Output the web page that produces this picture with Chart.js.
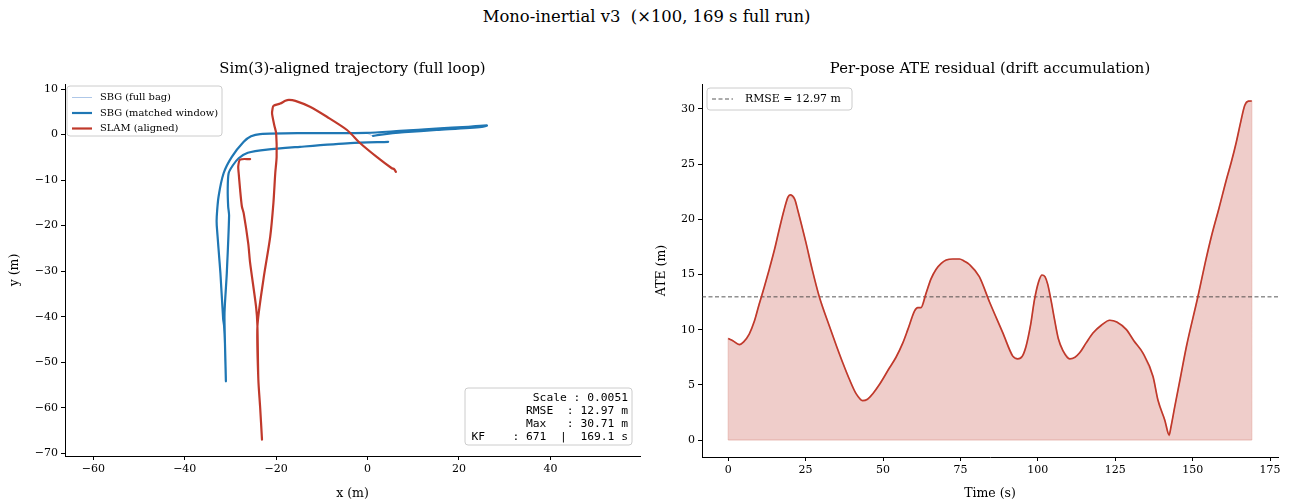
<!DOCTYPE html>
<html>
<head>
<meta charset="utf-8">
<script src="https://cdn.jsdelivr.net/npm/chart.js@4/dist/chart.umd.min.js"></script>
<style>
  html, body { margin: 0; padding: 0; background: #fff; }
  #wrap { position: relative; width: 1293px; height: 501px; overflow: hidden; }
  #suptitle { position: absolute; left: 0; top: 7px; width: 1293px; text-align: center;
              font-family: "DejaVu Serif", serif; font-size: 16.4px; color: #000; }
  .pane { position: absolute; top: 0; height: 501px; }
  #left { left: 0; width: 650px; }
  #right { left: 650px; width: 643px; }
</style>
</head>
<body>
<div id="wrap">
  <div id="suptitle">Mono-inertial v3&nbsp; (×100, 169 s full run)</div>
  <div class="pane" id="left"><canvas id="traj"></canvas></div>
  <div class="pane" id="right"><canvas id="ate"></canvas></div>
</div>
<script>
// ---- Trajectory (metres, Sim(3)-aligned) ----
const SBG_MATCHED_X = [4.5, -3.8, -14.8, -22.0, -26.2, -28.2, -29.5, -30.4, -30.6, -30.5, -30.3, -30.8, -31.3, -31.2, -31.0,
  -31.2, -31.4, -31.6, -32.2, -33.0, -33.0, -32.6, -31.5, -29.7, -27.1, -25.5, -23.5, -14.8, -0.2, 7.1, 15.0, 22.0, 26.1,
  25.0, 15.1, 8.0, 3.0, 1.2];
const SBG_MATCHED_Y = [-1.6, -1.9, -2.7, -3.3, -4.0, -5.2, -6.8, -8.5, -12.0, -15.8, -17.8, -30.4, -39.2, -46.0, -54.2,
  -46.0, -42.0, -40.5, -30.4, -20.0, -18.0, -13.6, -8.5, -4.9, -1.6, -0.4, 0.1, 0.3, 0.35, 0.8, 1.3, 1.7, 2.0,
  1.7, 1.0, 0.5, 0.0, -0.3];
// the full bag runs a little past the matched window at the loop closure
const SBG_EXTRA_X = [0.3, -0.6];
const SBG_EXTRA_Y = [0.1, 0.4];

const SLAM_X = [-25.7, -27.9, -28.3, -28.2, -27.9, -27.5, -27.1, -26.1, -25.7, -24.4, -24.1, -23.9, -23.5, -23.1,
  -23.5, -23.9, -24.1, -22.8, -21.3, -20.6, -20.2, -19.9, -20.0, -20.4, -20.9, -20.8, -20.6, -19.1, -18.0, -17.2, -15.8,
  -12.6, -8.9, -4.5, -1.6, 2.0, 5.3, 5.8, 6.2];
const SLAM_Y = [-5.4, -5.5, -7.0, -8.5, -12.0, -15.8, -17.3, -24.0, -28.2, -37.8, -42.1, -53.8, -60.0, -67.0,
  -60.0, -53.8, -42.1, -31.9, -22.4, -15.0, -8.5, -4.9, 0.26, 2.0, 4.6, 5.6, 6.3, 6.8, 7.4, 7.6, 7.4,
  6.1, 3.9, 1.0, -1.9, -4.9, -7.4, -7.6, -8.2];

const TRAJ_X_TICKS = [-60, -40, -20, 0, 20, 40];
const TRAJ_Y_TICKS = [-70, -60, -50, -40, -30, -20, -10, 0, 10];

// ---- Per-pose ATE residual ----
const ATE_T = [0, 1.5, 3.6, 5, 6.8, 8.5, 10, 11.7, 13.3, 15, 16.5, 18, 19.3, 20, 21.5, 22.5, 25.1, 27, 29.4, 32.7,
  35, 37, 39, 41.3, 43.4, 45, 46.7, 49, 52, 54.2, 56.4, 58, 60.2, 61.2, 62.3, 63.9, 65.5, 67.1, 68.8, 70.4,
  72.5, 74.7, 76.3, 77.9, 81.1, 84.4, 88.7, 91.9, 93.5, 95, 96.2, 97.7, 98.9, 100.2, 101.3, 102.3, 103.2, 104.3,
  105.4, 106.6, 108.1, 110.3, 112, 113.5, 115.6, 117.8, 120.5, 123.2, 125.5, 128.6, 131, 133.9, 137.2, 138.8,
  141, 142.4, 143, 144.2, 146, 148, 151.7, 154, 156.1, 158.5, 160.9, 162.5, 164.1, 165.5, 166.8, 168, 169.1];
const ATE_V = [9.2, 9.0, 8.65, 8.9, 9.6, 10.8, 12.3, 13.9, 15.5, 17.3, 19.1, 20.8, 22.0, 22.2, 21.8, 20.8, 17.9, 15.6, 13.0, 10.3,
  8.5, 7.0, 5.6, 4.2, 3.57, 3.7, 4.2, 5.1, 6.5, 7.5, 8.8, 10.0, 11.7, 12.0, 12.0, 13.3, 14.6, 15.45, 16.0, 16.3,
  16.4, 16.4, 16.2, 15.9, 14.8, 12.5, 9.7, 7.6, 7.35, 7.6, 8.5, 10.5, 12.7, 14.3, 14.95, 14.8, 14.1, 12.6,
  10.9, 9.2, 8.1, 7.35, 7.5, 7.9, 8.8, 9.7, 10.4, 10.85, 10.7, 10.0, 9.0, 7.9, 5.76, 3.6,
  1.8, 0.45, 1.2, 3.0, 5.6, 8.5, 13.0, 16.0, 18.5, 21.0, 23.6, 25.2, 27.0, 28.8, 30.3, 30.7, 30.71];
const RMSE = 12.97;
const ATE_X_TICKS = [0, 25, 50, 75, 100, 125, 150, 175];
const ATE_Y_TICKS = [0, 5, 10, 15, 20, 25, 30];

const STATS_LINES = [
  'Scale : 0.0051',
  'RMSE  : 12.97 m',
  'Max   : 30.71 m',
  'KF    : 671  |  169.1 s'
];

// ---- styling ----
const BLUE = '#1f77b4', LIGHT_BLUE = '#aec7e8', RED = '#c0392b';
const SERIF = '"DejaVu Serif", serif';
const MONO = '"DejaVu Sans Mono", monospace';

const zip = (xs, ys) => xs.map((x, i) => ({ x, y: ys[i] }));
const minus = v => String(v).replace('-', '\u2212');

function axis(ticks, title, fitKey, fitVal, titlePad, extra) {
  return Object.assign({
    type: 'linear',
    afterBuildTicks: s => { s.ticks = ticks.map(v => ({ value: v })); },
    afterFit: s => { s[fitKey] = fitVal; },
    grid: { display: true, drawOnChartArea: false, drawTicks: true, tickLength: 4, color: '#000', lineWidth: 1 },
    border: { display: true, color: '#000', width: 1 },
    ticks: { color: '#000', font: { family: SERIF, size: 11 }, padding: 3, callback: v => minus(v), maxRotation: 0, autoSkip: false },
    title: { display: true, text: title, color: '#000', font: { family: SERIF, size: 12.5 }, padding: titlePad }
  }, extra);
}

function roundRect(ctx, x, y, w, h, r) {
  ctx.beginPath();
  ctx.moveTo(x + r, y);
  ctx.lineTo(x + w - r, y); ctx.quadraticCurveTo(x + w, y, x + w, y + r);
  ctx.lineTo(x + w, y + h - r); ctx.quadraticCurveTo(x + w, y + h, x + w - r, y + h);
  ctx.lineTo(x + r, y + h); ctx.quadraticCurveTo(x, y + h, x, y + h - r);
  ctx.lineTo(x, y + r); ctx.quadraticCurveTo(x, y, x + r, y);
  ctx.closePath();
}

function panelBox(ctx, x, y, w, h) {
  roundRect(ctx, x, y, w, h, 3);
  ctx.fillStyle = 'rgba(255,255,255,0.85)';
  ctx.fill();
  ctx.strokeStyle = '#cccccc';
  ctx.lineWidth = 1;
  ctx.stroke();
}

// subplot title above the plotting area
const panelTitle = {
  id: 'panelTitle',
  afterDraw(chart, args, opts) {
    const { ctx, chartArea: a } = chart;
    ctx.save();
    ctx.font = '14.8px ' + SERIF;
    ctx.fillStyle = '#000';
    ctx.textAlign = 'center';
    ctx.textBaseline = 'middle';
    ctx.fillText(opts.text, (a.left + a.right) / 2, a.top - 15);
    ctx.restore();
  }
};

// legend + stats box for the trajectory panel
const trajDecor = {
  id: 'trajDecor',
  afterDraw(chart) {
    const { ctx, chartArea: a } = chart;
    ctx.save();
    const lx = a.left + 2, ly = a.top + 2;
    panelBox(ctx, lx, ly, 155, 50);
    const rows = [
      { label: 'SBG (full bag)', color: LIGHT_BLUE, w: 1 },
      { label: 'SBG (matched window)', color: BLUE, w: 2.2 },
      { label: 'SLAM (aligned)', color: RED, w: 2.2 }
    ];
    ctx.font = '9.9px ' + SERIF;
    ctx.textBaseline = 'middle';
    rows.forEach((r, i) => {
      const yy = ly + 11.5 + i * 15.5;
      ctx.strokeStyle = r.color; ctx.lineWidth = r.w;
      ctx.beginPath(); ctx.moveTo(lx + 5, yy); ctx.lineTo(lx + 25, yy); ctx.stroke();
      ctx.fillStyle = '#000';
      ctx.fillText(r.label, lx + 33, yy);
    });
    // stats box, bottom right
    const bw = 167, bh = 57;
    const bx = a.right - 8 - bw, by = a.bottom - 11 - bh;
    panelBox(ctx, bx, by, bw, bh);
    ctx.font = '11.3px ' + MONO;
    ctx.fillStyle = '#000';
    ctx.textAlign = 'right';
    STATS_LINES.forEach((s, i) => ctx.fillText(s, bx + bw - 4, by + 10 + i * 13));
    ctx.restore();
  }
};

// legend for the ATE panel
const ateDecor = {
  id: 'ateDecor',
  afterDraw(chart) {
    const { ctx, chartArea: a } = chart;
    ctx.save();
    const lx = a.left + 5, ly = a.top + 4;
    panelBox(ctx, lx, ly, 145, 22);
    ctx.strokeStyle = 'rgba(60,60,60,0.85)'; ctx.lineWidth = 1;
    ctx.setLineDash([4, 2.5]);
    ctx.beginPath(); ctx.moveTo(lx + 5, ly + 11); ctx.lineTo(lx + 26, ly + 11); ctx.stroke();
    ctx.setLineDash([]);
    ctx.font = '10.9px ' + SERIF;
    ctx.fillStyle = '#000';
    ctx.textBaseline = 'middle';
    ctx.fillText('RMSE = ' + RMSE.toFixed(2) + ' m', lx + 38, ly + 11.5);
    ctx.restore();
  }
};

Chart.defaults.animation = false;
Chart.defaults.responsive = false;

const trajCanvas = document.getElementById('traj');
trajCanvas.width = 650; trajCanvas.height = 501;
new Chart(trajCanvas, {
  type: 'scatter',
  data: {
    datasets: [
      { label: 'SLAM (aligned)', data: zip(SLAM_X, SLAM_Y), showLine: true, borderColor: RED, borderWidth: 2.2,
        pointRadius: 0, fill: false, order: 0, tension: 0.25, borderJoinStyle: 'round', borderCapStyle: 'round' },
      { label: 'SBG (matched window)', data: zip(SBG_MATCHED_X, SBG_MATCHED_Y), showLine: true, borderColor: BLUE,
        borderWidth: 2.2, pointRadius: 0, fill: false, order: 1, tension: 0.25, borderJoinStyle: 'round', borderCapStyle: 'round' },
      { label: 'SBG (full bag)', data: zip(SBG_MATCHED_X.concat(SBG_EXTRA_X), SBG_MATCHED_Y.concat(SBG_EXTRA_Y)),
        showLine: true, borderColor: LIGHT_BLUE, borderWidth: 1, pointRadius: 0, fill: false, order: 2, tension: 0.25 }
    ]
  },
  options: {
    layout: { padding: { left: 0, right: 10, top: 84, bottom: 0 } },
    plugins: { legend: { display: false }, tooltip: { enabled: false }, panelTitle: { text: 'Sim(3)-aligned trajectory (full loop)' } },
    scales: {
      x: axis(TRAJ_X_TICKS, 'x (m)', 'height', 45, { top: 0, bottom: 0 }, { min: -66.2, max: 59.6 }),
      y: axis(TRAJ_Y_TICKS, 'y (m)', 'width', 65, { top: 7, bottom: 0 }, { min: -70.6, max: 11.1 })
    }
  },
  plugins: [panelTitle, trajDecor]
});

const ateCanvas = document.getElementById('ate');
ateCanvas.width = 643; ateCanvas.height = 501;
const atePts = zip(ATE_T, ATE_V);
const tEnd = ATE_T[ATE_T.length - 1];
// shaded area under the curve, closed down to zero at both ends
const areaPts = [{ x: ATE_T[0], y: 0 }].concat(atePts, [{ x: tEnd, y: 0 }]);
new Chart(ateCanvas, {
  type: 'line',
  data: {
    datasets: [
      { label: 'ATE', data: atePts, borderColor: RED, borderWidth: 1.7, pointRadius: 0,
        fill: false, order: 0, cubicInterpolationMode: 'monotone' },
      { label: 'RMSE = 12.97 m', data: [{ x: -8.455, y: RMSE }, { x: 177.555, y: RMSE }],
        borderColor: 'rgba(60,60,60,0.85)', borderWidth: 1, borderDash: [4, 2.5], pointRadius: 0, fill: false, order: 1 },
      { label: 'area', data: areaPts, borderColor: 'rgba(192,57,43,0.22)', borderWidth: 1.2,
        backgroundColor: 'rgba(192,57,43,0.25)', pointRadius: 0, fill: 'origin', order: 3, tension: 0 },
      { label: 'area base', data: [{ x: ATE_T[0], y: 0 }, { x: tEnd, y: 0 }], borderColor: 'rgba(192,57,43,0.22)',
        borderWidth: 1.2, pointRadius: 0, fill: false, order: 2 }
    ]
  },
  options: {
    layout: { padding: { left: 0, right: 15, top: 84, bottom: 0 } },
    plugins: { legend: { display: false }, tooltip: { enabled: false }, panelTitle: { text: 'Per-pose ATE residual (drift accumulation)' } },
    scales: {
      x: axis(ATE_X_TICKS, 'Time (s)', 'height', 44, { top: 0, bottom: 0 }, { min: -8.455, max: 177.555 }),
      y: axis(ATE_Y_TICKS, 'ATE (m)', 'width', 52, { top: 4, bottom: 0 }, { min: -1.536, max: 32.25 })
    }
  },
  plugins: [panelTitle, ateDecor]
});
</script>
</body>
</html>
